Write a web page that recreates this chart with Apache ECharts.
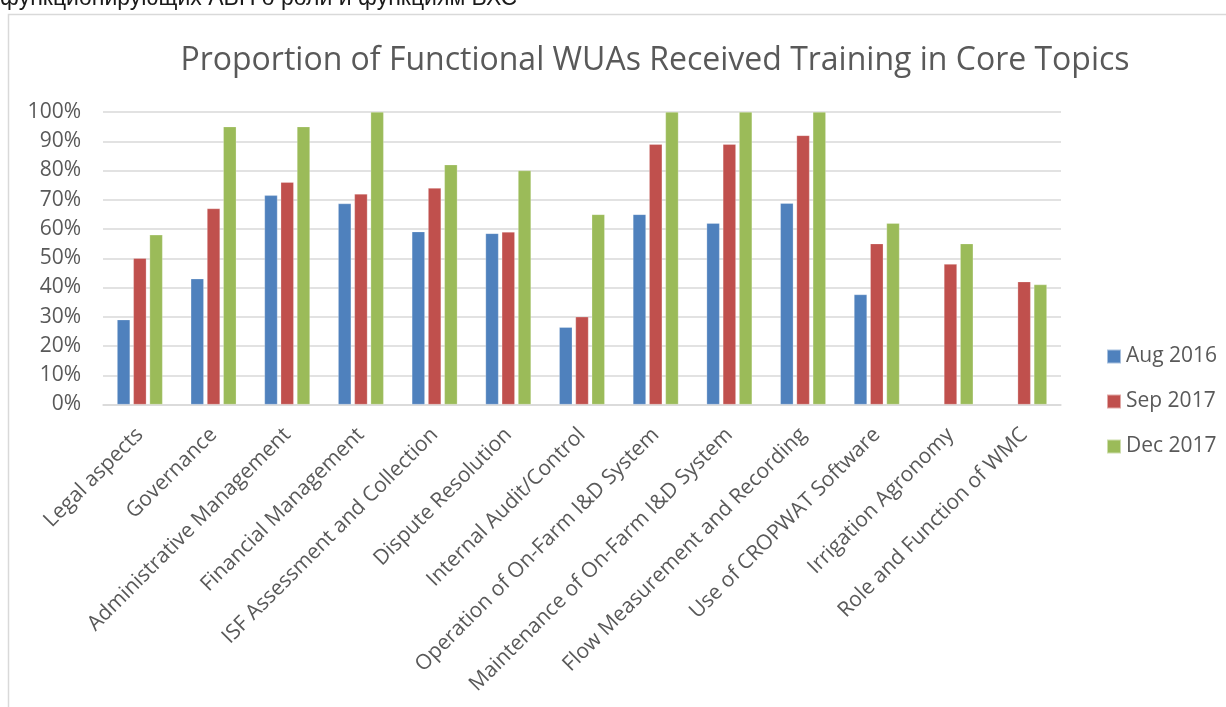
<!DOCTYPE html>
<html>
<head>
<meta charset="utf-8">
<script src="https://cdn.jsdelivr.net/npm/echarts@6/dist/echarts.min.js"></script>
<style>
html,body{margin:0;padding:0;background:#fff;}
#main{width:1226px;height:707px;}
</style>
</head>
<body>
<div id="main"></div>
<script>
// topics and survey rounds
var topics = ['Legal aspects', 'Governance', 'Administrative Management', 'Financial Management',
  'ISF Assessment and Collection', 'Dispute Resolution', 'Internal Audit/Control',
  'Operation of On-Farm I&D System', 'Maintenance of On-Farm I&D System',
  'Flow Measurement and Recording', 'Use of CROPWAT Software', 'Irrigation Agronomy',
  'Role and Function of WMC'];
var aug2016 = [29, 43, 71.5, 68.7, 59.1, 58.5, 26.4, 65, 62, 68.8, 37.6, null, null];
var sep2017 = [50, 67, 76, 72, 74, 59, 30, 89, 89, 92, 55, 48, 42];
var dec2017 = [58, 95, 95, 100, 82, 80, 65, 100, 100, 100, 62, 55, 41];
var colors = ['#4F81BD', '#C0504D', '#9BBB59'];
var txt = '#595959';
var ff = '"Open Sans", "Noto Sans", sans-serif';

var chart = echarts.init(document.getElementById('main'));

function bar(name, data){
  return {
    name: name, type: 'bar', data: data,
    barWidth: 13, barGap: '25%',
    itemStyle: {borderColor: 'rgba(255,255,255,0.5)', borderWidth: 0.5}
  };
}

chart.setOption({
  animation: false,
  color: colors,
  textStyle: {fontFamily: ff},
  title: {
    text: 'Proportion of Functional WUAs Received Training in Core Topics',
    left: 650, top: 40, textAlign: 'center',
    textStyle: {fontFamily: ff, fontSize: 32, fontWeight: 'normal', color: txt}
  },
  graphic: [
    {type: 'text', left: 0, top: -13,
      style: {text: 'функционирующих АВП о роли и функциям ВХС', font: '23px "Liberation Sans", Arial, sans-serif', fill: '#1a1a1a'}},
    {type: 'rect', shape: {x: 8.5, y: 14.5, width: 1300, height: 800},
      style: {fill: 'none', stroke: '#D9D9D9', lineWidth: 1.5}, z: -1}
  ],
  legend: {
    orient: 'vertical', left: 1101, top: 341,
    itemWidth: 14, itemHeight: 14, itemGap: 24,
    icon: 'rect',
    textStyle: {fontFamily: ff, fontSize: 21, color: txt}
  },
  grid: {left: 103, right: 165, top: 112, bottom: 302.5, containLabel: false},
  xAxis: {
    type: 'category', data: topics,
    axisLine: {lineStyle: {color: '#D9D9D9', width: 1.5}},
    axisTick: {show: false},
    axisLabel: {rotate: 45, interval: 0, margin: 27, fontFamily: ff, fontSize: 21, color: txt}
  },
  yAxis: {
    type: 'value', min: 0, max: 100, interval: 10,
    axisLine: {show: false}, axisTick: {show: false},
    axisLabel: {formatter: '{value}%', margin: 22, fontFamily: ff, fontSize: 21, color: txt},
    splitLine: {lineStyle: {color: '#D9D9D9', width: 1.5}}
  },
  series: [
    bar('Aug 2016', aug2016),
    bar('Sep 2017', sep2017),
    bar('Dec 2017', dec2017)
  ]
});
</script>
</body>
</html>
